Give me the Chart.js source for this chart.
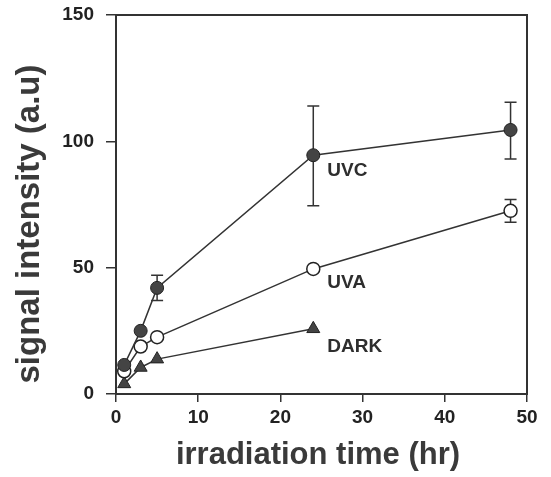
<!DOCTYPE html>
<html><head><meta charset="utf-8">
<script src="https://cdn.jsdelivr.net/npm/chart.js@4/dist/chart.umd.min.js"></script>
<style>html,body{margin:0;padding:0;background:#fff}#wrap{width:551px;height:477px}</style>
</head><body><div id="wrap"><canvas id="c"></canvas></div>
<script>
const times = [1, 3, 5, 24, 48];
const darkTimes = [1, 3, 5, 24];
const uvc = [11.5, 25, 42, 94.5, 104.5];
const uvcErrHigh = [null, null, 47, 114, 115.5];
const uvcErrLow = [null, null, 37, 74.5, 93];
const uva = [9, 18.8, 22.5, 49.5, 72.5];
const uvaErrHigh = [null, null, null, null, 77];
const uvaErrLow = [null, null, null, null, 68];
const dark = [4, 10.5, 13.8, 25.8];
const seriesNames = ['UVC', 'UVA', 'DARK'];
const xTicks = [0, 10, 20, 30, 40, 50];
const yTicks = [0, 50, 100, 150];
const xTitle = 'irradiation time (hr)';
const yTitle = 'signal intensity (a.u)';

const INK = '#333';
const pts = (xs, ys) => xs.map((x, i) => ({x: x, y: ys[i]}));
const errors = [
  {ds: 0, hi: uvcErrHigh, lo: uvcErrLow},
  {ds: 1, hi: uvaErrHigh, lo: uvaErrLow}
];

const errPlugin = {
  id: 'err',
  beforeDatasetsDraw(chart) {
    const {ctx, chartArea: a, scales: {x, y}} = chart;
    ctx.save();
    ctx.strokeStyle = INK; ctx.lineWidth = 2;
    ctx.strokeRect(a.left, a.top, a.right - a.left, a.bottom - a.top);
    ctx.lineWidth = 1.5;
    errors.forEach(e => {
      const xs = chart.data.datasets[e.ds].data;
      xs.forEach((p, i) => {
        if (e.hi[i] == null) return;
        const px = x.getPixelForValue(p.x);
        const yh = y.getPixelForValue(e.hi[i]);
        const yl = y.getPixelForValue(e.lo[i]);
        ctx.beginPath();
        ctx.moveTo(px, yh); ctx.lineTo(px, yl);
        ctx.moveTo(px - 6, yh); ctx.lineTo(px + 6, yh);
        ctx.moveTo(px - 6, yl); ctx.lineTo(px + 6, yl);
        ctx.stroke();
      });
    });
    ctx.restore();
  },
  afterDraw(chart) {
    const {ctx, scales: {x, y}} = chart;
    ctx.save();
    ctx.fillStyle = '#2e2e2e';
    ctx.font = 'bold 19px "Liberation Sans", Arial, sans-serif';
    ctx.textAlign = 'left'; ctx.textBaseline = 'middle';
    chart.data.datasets.forEach((ds, k) => {
      const p = ds.data[3];
      const px = x.getPixelForValue(p.x) + 14;
      const py = y.getPixelForValue(p.y) + [16, 14, 18][k];
      ctx.fillText(seriesNames[k], px, py);
    });
    ctx.fillStyle = '#3a3a3a';
    ctx.font = 'bold 31px "Liberation Sans", Arial, sans-serif';
    ctx.textAlign = 'center';
    ctx.fillText(xTitle, 318, 455);
    ctx.translate(30, 224);
    ctx.rotate(-Math.PI / 2);
    ctx.font = 'bold 33px "Liberation Sans", Arial, sans-serif';
    ctx.fillText(yTitle, 0, 0);
    ctx.restore();
  }
};

const tickFont = {family: '"Liberation Sans", Arial, sans-serif', size: 19, weight: 'bold'};

new Chart(document.getElementById('c'), {
  type: 'scatter',
  data: {
    datasets: [
      {label: seriesNames[0], data: pts(times, uvc), showLine: true, borderColor: INK, borderWidth: 1.5,
       pointStyle: 'circle', pointRadius: 6.5, pointBackgroundColor: '#444', pointBorderColor: '#222', pointBorderWidth: 1},
      {label: seriesNames[1], data: pts(times, uva), showLine: true, borderColor: INK, borderWidth: 1.5,
       pointStyle: 'circle', pointRadius: 6.5, pointBackgroundColor: '#fff', pointBorderColor: '#222', pointBorderWidth: 1.5},
      {label: seriesNames[2], data: pts(darkTimes, dark), showLine: true, borderColor: INK, borderWidth: 1.5,
       pointStyle: 'triangle', pointRadius: 7.5, pointBackgroundColor: '#444', pointBorderColor: '#222', pointBorderWidth: 1}
    ]
  },
  options: {
    responsive: true, maintainAspectRatio: false, animation: false,
    layout: {padding: {top: 15, right: 24, left: 0, bottom: 0}},
    plugins: {legend: {display: false}, tooltip: {enabled: false}},
    scales: {
      x: {
        type: 'linear', min: 0, max: 50,
        afterFit: s => { s.height = 83; s.paddingLeft = 0; s.paddingRight = 0; },
        afterBuildTicks: s => { s.ticks = xTicks.map(v => ({value: v})); },
        grid: {drawOnChartArea: false, drawTicks: true, tickLength: 8, tickColor: INK, lineWidth: 1.5},
        border: {display: true, color: INK, width: 2},
        ticks: {color: '#222', padding: 4, font: tickFont, maxRotation: 0}
      },
      y: {
        type: 'linear', min: 0, max: 150,
        afterFit: s => { s.width = 116; s.paddingTop = 0; s.paddingBottom = 0; },
        afterBuildTicks: s => { s.ticks = yTicks.map(v => ({value: v})); },
        grid: {drawOnChartArea: false, drawTicks: true, tickLength: 10, tickColor: INK, lineWidth: 1.5},
        border: {display: true, color: INK, width: 2},
        ticks: {color: '#222', padding: 12, font: tickFont}
      }
    }
  },
  plugins: [errPlugin]
});
</script></body></html>
